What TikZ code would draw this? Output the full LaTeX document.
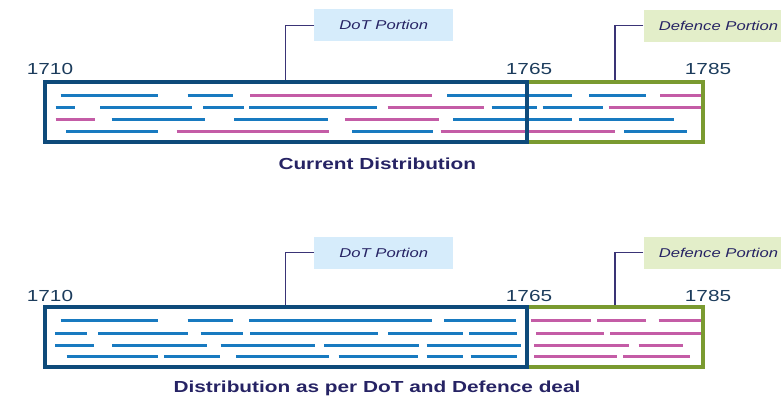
\documentclass[tikz,border=0pt]{standalone}
\usepackage{fontspec}
\setmainfont{Liberation Sans}
\newfontfamily\wf[FakeStretch=1.3]{Liberation Sans}
\definecolor{dashblue}{RGB}{24,122,192}
\definecolor{dashpink}{RGB}{196,92,166}
\definecolor{boxblue}{RGB}{14,74,122}
\definecolor{boxgreen}{RGB}{122,154,48}
\definecolor{lblblue}{RGB}{214,236,251}
\definecolor{lblgreen}{RGB}{227,238,201}
\definecolor{connc}{RGB}{58,52,118}
\definecolor{yearc}{RGB}{28,60,92}
\definecolor{navy}{RGB}{38,35,100}
\tikzset{
  dsh/.style={line width=3pt},
  b/.style={dsh,draw=dashblue},
  p/.style={dsh,draw=dashpink},
  bluebox/.style={draw=boxblue,line width=4pt},
  greenbox/.style={draw=boxgreen,line width=4pt},
  portion/.style={inner sep=0pt,minimum height=32pt,text=navy,font=\wf\itshape\fontsize{12.8}{14}\selectfont},
  conn/.style={draw=connc,line width=1.3pt},
  year/.style={inner sep=0pt,text=yearc,font=\wf\fontsize{16}{18}\selectfont},
  caption/.style={inner sep=0pt,text=navy,font=\wf\bfseries\fontsize{16}{18}\selectfont}
}
\begin{document}
\begin{tikzpicture}[x=1pt,y=-1pt]
\useasboundingbox (0,0) rectangle (781,397);
% ---------- top diagram ----------
\foreach \s/\a/\e in {b/60.7/158.3,b/187.7/232.7,p/250/431.7,b/447.3/571.7,b/589.3/646,p/660/701.7}
  \draw[\s] (\a,95.5) -- (\e,95.5);
\foreach \s/\a/\e in {b/55.7/75,b/100/192.3,b/203.3/244,b/249.3/376.7,p/387.7/484,b/491.7/536.7,b/542.7/602.7,p/608.7/701}
  \draw[\s] (\a,107.5) -- (\e,107.5);
\foreach \s/\a/\e in {p/55.7/95,b/111.7/205,b/234/327.7,p/345.3/438.7,b/453.3/571.7,b/579/674.3}
  \draw[\s] (\a,119.5) -- (\e,119.5);
\foreach \s/\a/\e in {b/66/158.3,p/176.7/329.3,b/352.3/432.7,p/440.7/615,b/624/687.3}
  \draw[\s] (\a,131.5) -- (\e,131.5);
\draw[greenbox] (526.5,82) rectangle (702.5,142);
\draw[bluebox] (44.5,82) rectangle (526.5,142);
\node[portion,fill=lblblue,minimum width=139pt] (dot1) at (383.8,25.3) {DoT Portion};
\node[portion,fill=lblgreen,minimum width=150pt] (def1) at (718.5,25.5) {Defence Portion};
\coordinate (dot1t) at (285.5,80);
\coordinate (def1t) at (615,80);
\draw[conn] (dot1.west) -| (dot1t);
\draw[conn] (def1.west) -| (def1t);
\node[year] (y1a) at (50,69) {1710};
\node[year] (y1b) at (529,69) {1765};
\node[year] (y1c) at (708,69) {1785};
\node[caption] (cap1) at (377.3,164) {Current Distribution};
% ---------- bottom diagram ----------
\foreach \s/\a/\e in {b/60.7/158.3,b/187.7/232.7,b/249.3/431.7,b/444/516,p/530.7/590.7,p/597.3/646,p/658.7/701.7}
  \draw[\s] (\a,320.5) -- (\e,320.5);
\foreach \s/\a/\e in {b/55.3/87.3,b/98.3/188.3,b/200.7/243.3,b/250/378.3,b/388.3/462.7,b/469.3/517.3,p/536/604,p/610/701.7}
  \draw[\s] (\a,333.5) -- (\e,333.5);
\foreach \s/\a/\e in {b/55.3/94,b/112/206.7,b/220.7/315,b/324.3/418.7,b/426.7/520.7,p/534/628.7,p/638.7/682.7}
  \draw[\s] (\a,345.5) -- (\e,345.5);
\foreach \s/\a/\e in {b/66.7/158.3,b/164/220,b/236/329,b/338.7/417.7,b/426.7/462.7,b/470.7/516.7,p/534/616.7,p/623.3/690}
  \draw[\s] (\a,356.5) -- (\e,356.5);
\draw[greenbox] (526.5,307.3) rectangle (702.5,367.3);
\draw[bluebox] (44.5,307.3) rectangle (526.5,367.3);
\node[portion,fill=lblblue,minimum width=139pt] (dot2) at (383.8,252.5) {DoT Portion};
\node[portion,fill=lblgreen,minimum width=150pt] (def2) at (718.5,252.5) {Defence Portion};
\coordinate (dot2t) at (285.5,305.3);
\coordinate (def2t) at (615,305.3);
\draw[conn] (dot2.west) -| (dot2t);
\draw[conn] (def2.west) -| (def2t);
\node[year] (y2a) at (50,295.5) {1710};
\node[year] (y2b) at (529,295.5) {1765};
\node[year] (y2c) at (708,295.5) {1785};
\node[caption] (cap2) at (377,388) {Distribution as per DoT and Defence deal};
\end{tikzpicture}
\end{document}
